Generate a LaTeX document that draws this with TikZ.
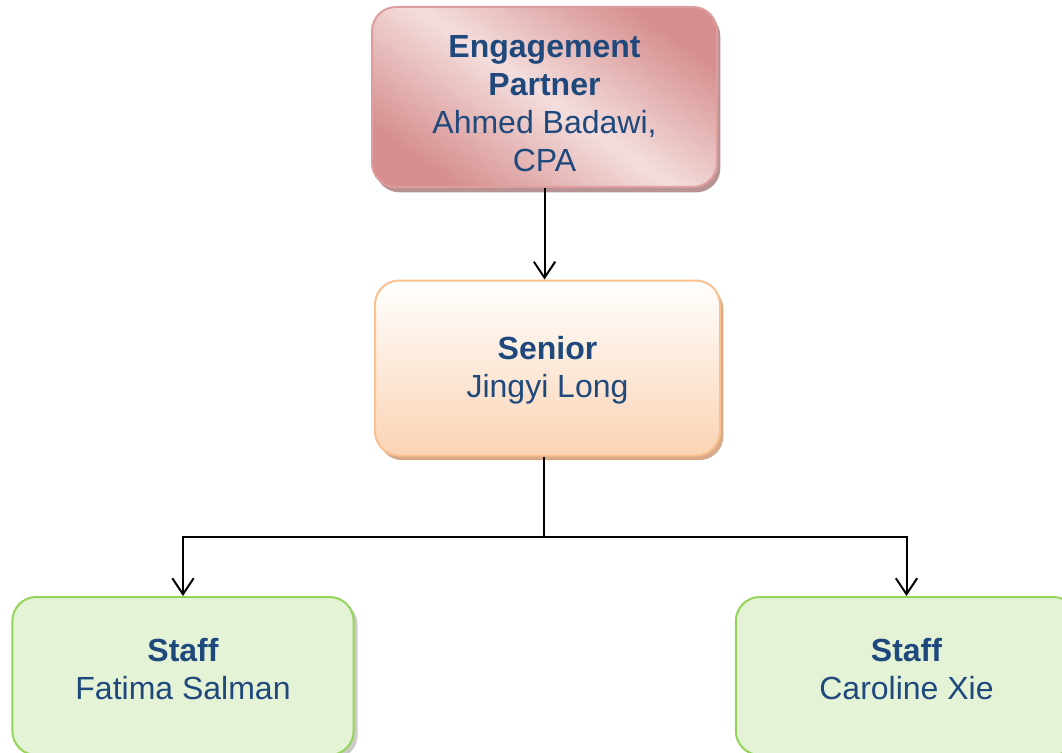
\documentclass[tikz,border=0pt]{standalone}
\usepackage{fontspec}
\setmainfont{Liberation Sans}
\usetikzlibrary{arrows.meta,shadows}
\definecolor{txtblue}{HTML}{1F497D}
\definecolor{pinkdark}{HTML}{D68F8E}
\definecolor{pinklight}{HTML}{F3DEDD}
\definecolor{pinkedge}{HTML}{DE9E9D}
\definecolor{pinkshadow}{HTML}{B89393}
\definecolor{peachfill}{HTML}{FAD3B3}
\definecolor{peachedge}{HTML}{FAC090}
\definecolor{peachshadow}{HTML}{D8AA88}
\definecolor{greenfill}{HTML}{E4F2D6}
\definecolor{greenedge}{HTML}{96D35A}
\definecolor{greenshadow}{HTML}{A9A9A9}
\newcommand\toppad[1]{\rule{0pt}{#1}}
\newcommand\botpad[1]{\rule[-#1]{0pt}{0pt}}
\tikzset{
  card/.style={rounded corners=18pt, line width=1.5pt, align=center, text=txtblue,
    font=\fontsize{24}{28.5}\selectfont, inner sep=0pt},
  partnerbox/.style={card, draw=pinkedge, minimum width=258.75pt, minimum height=135pt,
    shading=axis, top color=pinkdark, bottom color=pinkdark, middle color=pinklight, shading angle=-35,
    drop shadow={shadow xshift=2.5pt, shadow yshift=-4pt, fill=pinkshadow, opacity=1}},
  seniorbox/.style={card, draw=peachedge, minimum width=258.75pt, minimum height=131.25pt,
    top color=white, bottom color=peachfill,
    drop shadow={shadow xshift=2.5pt, shadow yshift=-3.5pt, fill=peachshadow, opacity=1}},
  staffbox/.style={card, draw=greenedge, fill=greenfill, minimum width=256pt, minimum height=118.5pt,
    drop shadow={shadow xshift=3pt, shadow yshift=-3pt, fill=greenshadow, opacity=0.6}},
  link/.style={line width=1.5pt, black},
  arrowlink/.style={link, -{Straight Barb[length=12pt,width=16pt,line width=1.5pt]}}
}
\begin{document}
\begin{tikzpicture}[x=0.75pt,y=-0.75pt]
\useasboundingbox (0,0) rectangle (1062,752);
\clip (0,0) rectangle (1062,752);
\node[partnerbox] (partner) at (544.5,97) {\toppad{26.3pt}\textbf{Engagement}\\\textbf{Partner}\\Ahmed Badawi,\\CPA};
\node[seniorbox] (senior) at (547.5,368) {\toppad{20.3pt}\textbf{Senior}\\Jingyi Long};
\node[staffbox] (staffA) at (183,676) {\textbf{Staff}\\Fatima Salman\botpad{10.5pt}};
\node[staffbox] (staffB) at (906.5,676) {\textbf{Staff}\\Caroline Xie\botpad{10.5pt}};
\draw[arrowlink] (partner.south) -- (partner.south |- senior.north);
\coordinate (split) at (544,537);
\draw[link] (senior.south -| split) -- (split);
\draw[arrowlink] (split) -| (staffA.north);
\draw[arrowlink] (split) -| (staffB.north);
\end{tikzpicture}
\end{document}
